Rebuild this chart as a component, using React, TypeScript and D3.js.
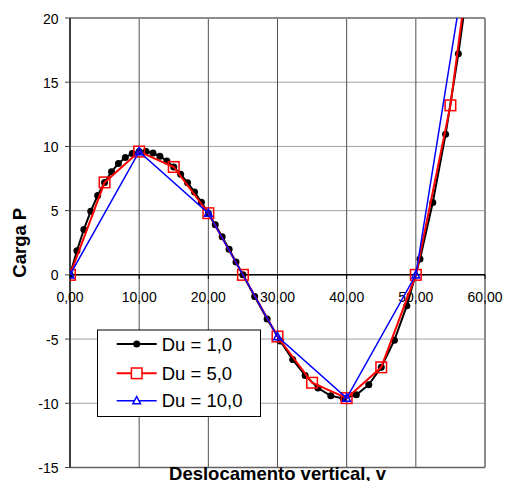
import React from "react";
import * as d3 from "d3";

const du1V = [0, 1, 2, 3, 4, 5, 6, 7, 8, 9, 10, 11, 12, 13, 14, 15, 16, 17, 18, 19, 20, 21, 22, 23, 24, 25, 26.7, 28.5, 30.4, 32.2, 34.0, 35.85, 37.7, 39.5, 41.4, 43.2, 45.0, 46.9, 48.7, 50.6, 52.45, 54.3, 56.15, 58.0];
const du1P = [0, 1.88, 3.53, 4.96, 6.18, 7.2, 8.03, 8.67, 9.14, 9.45, 9.6, 9.61, 9.48, 9.24, 8.87, 8.4, 7.83, 7.18, 6.45, 5.65, 4.8, 3.9, 2.96, 1.99, 1.0, 0, -1.69, -3.43, -5.15, -6.6, -7.83, -8.81, -9.42, -9.62, -9.34, -8.55, -7.2, -5.09, -2.4, 1.24, 5.64, 10.95, 17.21, 24.5];
const du5V = [0, 5, 10, 15, 20, 25, 30, 35, 40, 45, 50, 55, 60];
const du5P = [0, 7.2, 9.6, 8.4, 4.8, 0, -4.8, -8.4, -9.6, -7.2, 0, 13.2, 33.6];
const du10V = [0, 10, 20, 30, 40, 50, 60];
const du10P = [0, 9.6, 4.8, -4.8, -9.6, 0, 33.6];

const xTicks = [0, 10, 20, 30, 40, 50, 60];
const yTicks = [-15, -10, -5, 0, 5, 10, 15, 20];
const seriesNames = ["Du = 1,0", "Du = 5,0", "Du = 10,0"];

const FONT = "'Liberation Sans', Arial, sans-serif";

export default function App() {
  const L = 70, R = 485, T = 18, B = 467.5;
  const x = d3.scaleLinear().domain([0, 60]).range([L, R]);
  const y = d3.scaleLinear().domain([-15, 20]).range([B, T]);
  const line = d3.line<[number, number]>().x((d) => x(d[0])).y((d) => y(d[1]));
  const s1 = du1V.map((v, i) => [v, du1P[i]] as [number, number]);
  const s5 = du5V.map((v, i) => [v, du5P[i]] as [number, number]);
  const s10 = du10V.map((v, i) => [v, du10P[i]] as [number, number]);
  const tri = (cx: number, cy: number, s: number) =>
    `M${cx},${cy - s * 0.6}L${cx + s * 0.55},${cy + s * 0.45}L${cx - s * 0.55},${cy + s * 0.45}Z`;

  const legRows = [344, 373.3, 400.7];

  return (
    <svg width={505} height={481} style={{ position: "absolute", left: 0, top: 0, background: "#fff" }}>
      <defs>
        <clipPath id="plotClip">
          <rect x={L} y={T} width={R - L} height={B - T} />
        </clipPath>
      </defs>
      {/* horizontal gridlines */}
      {yTicks.map((t) => (
        <line key={"hg" + t} x1={L} x2={R} y1={y(t)} y2={y(t)} stroke="#a0a0a0" strokeWidth={1} />
      ))}
      {/* vertical gridlines */}
      {xTicks.slice(1, -1).map((t) => (
        <line key={"vg" + t} x1={x(t)} x2={x(t)} y1={T} y2={B} stroke="#505050" strokeWidth={1} />
      ))}
      {/* plot border */}
      <line x1={L} x2={R} y1={T} y2={T} stroke="#8c8c8c" strokeWidth={2} />
      <line x1={R} x2={R} y1={T} y2={B} stroke="#8c8c8c" strokeWidth={2} />
      <line x1={L} x2={R} y1={B} y2={B} stroke="#606060" strokeWidth={1.5} />
      {/* y axis */}
      <line x1={L} x2={L} y1={T} y2={B} stroke="#404040" strokeWidth={2} />
      {yTicks.map((t) => (
        <line key={"yt" + t} x1={L - 5} x2={L} y1={y(t)} y2={y(t)} stroke="#404040" strokeWidth={1} />
      ))}
      {yTicks.map((t) => (
        <text key={"yl" + t} x={58.5} y={y(t) + 5.5} textAnchor="end" fontFamily={FONT} fontSize={14} fill="#000">
          {t}
        </text>
      ))}
      {/* x axis at 0 */}
      <line x1={L} x2={R} y1={y(0)} y2={y(0)} stroke="#000" strokeWidth={1.5} />
      {xTicks.map((t) => (
        <line key={"xt" + t} x1={x(t)} x2={x(t)} y1={y(0)} y2={y(0) + 4} stroke="#000" strokeWidth={1} />
      ))}
      {xTicks.map((t) => (
        <text key={"xl" + t} x={x(t)} y={302} textAnchor="middle" fontFamily={FONT} fontSize={14} fill="#000">
          {d3.format(".2f")(t).replace(".", ",")}
        </text>
      ))}

      <g clipPath="url(#plotClip)">
        <path d={line(s1) || ""} fill="none" stroke="#000" strokeWidth={2} />
        {s1.map((d, i) => (
          <circle key={"c" + i} cx={x(d[0])} cy={y(d[1])} r={3.5} fill="#000" />
        ))}
        <path d={line(s5) || ""} fill="none" stroke="#ff0000" strokeWidth={2} />
        {s5.map((d, i) => (
          <rect key={"s" + i} x={x(d[0]) - 5.3} y={y(d[1]) - 5.3} width={10.6} height={10.6} fill="none" stroke="#ff0000" strokeWidth={1.5} />
        ))}
        <path d={line(s10) || ""} fill="none" stroke="#0000ff" strokeWidth={1.5} />
        {s10.map((d, i) => (
          <path key={"t" + i} d={tri(x(d[0]), y(d[1]), 7)} fill="none" stroke="#0000ff" strokeWidth={1.5} />
        ))}
      </g>

      {/* axis titles */}
      <text x={277.5} y={480} textAnchor="middle" fontFamily={FONT} fontSize={18.5} fontWeight="bold" fill="#000">
        Deslocamento vertical, v
      </text>
      <text transform={`translate(26,${(T + B) / 2}) rotate(-90)`} textAnchor="middle" fontFamily={FONT} fontSize={18.5} fontWeight="bold" fill="#000">
        Carga P
      </text>

      {/* legend */}
      <rect x={97.5} y={330} width={163} height={86.5} fill="#fff" stroke="#000" strokeWidth={1} />
      {seriesNames.map((name, i) => {
        const cy = legRows[i];
        const color = i === 0 ? "#000" : i === 1 ? "#ff0000" : "#0000ff";
        return (
          <g key={"lg" + i}>
            <line x1={116.7} x2={156.7} y1={cy} y2={cy} stroke={color} strokeWidth={i === 2 ? 1.5 : 2} />
            {i === 0 && <circle cx={136.7} cy={cy} r={3.5} fill="#000" />}
            {i === 1 && <rect x={136.7 - 5.3} y={cy - 5.3} width={10.6} height={10.6} fill="#fff" stroke="#ff0000" strokeWidth={1.5} />}
            {i === 2 && <path d={tri(136.7, cy, 7)} fill="#fff" stroke="#0000ff" strokeWidth={1.5} />}
            <text x={161.7} y={cy + 6.7} fontFamily={FONT} fontSize={18.5} fill="#000">
              {name}
            </text>
          </g>
        );
      })}
    </svg>
  );
}
